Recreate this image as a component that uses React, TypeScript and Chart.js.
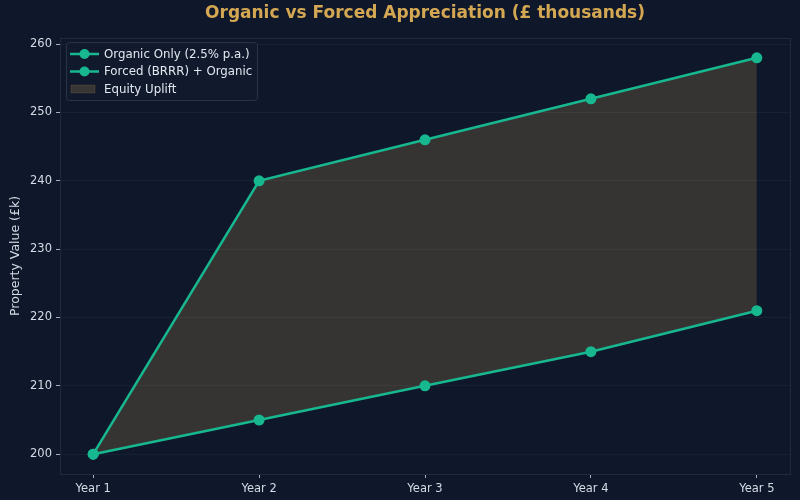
import React, { useEffect, useRef } from "react";
import { Chart, registerables } from "chart.js";

Chart.register(...registerables);

const labels = ["Year 1", "Year 2", "Year 3", "Year 4", "Year 5"];
const organic = [200, 205, 210, 215, 221];
const forced = [200, 240, 246, 252, 258];
const yTicks = [200, 210, 220, 230, 240, 250, 260];

const BG = "#0f172a";
const LINE = "#17b890";
const GOLD = "#d4a853";
const TEXT = "#d5dce6";
const FONT = "'DejaVu Sans', sans-serif";

const legendItems = [
  { type: "line", text: "Organic Only (2.5% p.a.)" },
  { type: "line", text: "Forced (BRRR) + Organic" },
  { type: "patch", text: "Equity Uplift" },
];

const customPlugin = {
  id: "custom",
  beforeDraw(chart: any) {
    const { ctx, width, height } = chart;
    ctx.save();
    ctx.fillStyle = BG;
    ctx.fillRect(0, 0, width, height);
    ctx.restore();
  },
  afterDraw(chart: any) {
    const { ctx, chartArea } = chart;
    ctx.save();
    // spines
    ctx.strokeStyle = "#1f2a3d";
    ctx.lineWidth = 1;
    ctx.strokeRect(
      Math.round(chartArea.left) + 0.5,
      Math.round(chartArea.top) + 0.5,
      Math.round(chartArea.right - chartArea.left),
      Math.round(chartArea.bottom - chartArea.top)
    );
    // title
    ctx.fillStyle = GOLD;
    ctx.font = `bold 17px ${FONT}`;
    ctx.textAlign = "center";
    ctx.textBaseline = "middle";
    ctx.fillText(
      "Organic vs Forced Appreciation (£ thousands)",
      (chartArea.left + chartArea.right) / 2,
      14
    );
    // y title
    ctx.save();
    ctx.translate(16, (chartArea.top + chartArea.bottom) / 2);
    ctx.rotate(-Math.PI / 2);
    ctx.fillStyle = TEXT;
    ctx.font = `12.5px ${FONT}`;
    ctx.fillText("Property Value (£k)", 0, 0);
    ctx.restore();
    // legend
    const bx = chartArea.left + 6;
    const by = chartArea.top + 4;
    const bw = 191;
    const bh = 58;
    ctx.beginPath();
    if (ctx.roundRect) ctx.roundRect(bx + 0.5, by + 0.5, bw, bh, 3);
    else ctx.rect(bx + 0.5, by + 0.5, bw, bh);
    ctx.fillStyle = "rgba(18,26,45,0.85)";
    ctx.fill();
    ctx.strokeStyle = "#2a3448";
    ctx.lineWidth = 1;
    ctx.stroke();
    ctx.font = `11.8px ${FONT}`;
    ctx.textAlign = "left";
    ctx.textBaseline = "middle";
    legendItems.forEach((it, i) => {
      const cy = by + 12 + i * 17.5;
      if (it.type === "line") {
        ctx.strokeStyle = LINE;
        ctx.lineWidth = 2.5;
        ctx.beginPath();
        ctx.moveTo(bx + 4, cy);
        ctx.lineTo(bx + 33, cy);
        ctx.stroke();
        ctx.fillStyle = LINE;
        ctx.beginPath();
        ctx.arc(bx + 18.5, cy, 5, 0, Math.PI * 2);
        ctx.fill();
      } else {
        ctx.fillStyle = "rgba(212,168,83,0.2)";
        ctx.fillRect(bx + 5, cy - 4, 24, 8);
        ctx.strokeStyle = "rgba(212,168,83,0.15)";
        ctx.lineWidth = 1;
        ctx.strokeRect(bx + 5, cy - 4, 24, 8);
      }
      ctx.fillStyle = "#e2e8f0";
      ctx.fillText(it.text, bx + 38, cy + 0.5);
    });
    ctx.restore();
  },
};

export default function App() {
  const ref = useRef<HTMLCanvasElement>(null);
  useEffect(() => {
    document.body.style.margin = "0";
    document.body.style.background = BG;
    const chart = new Chart(ref.current!, {
      type: "line",
      data: {
        datasets: [
          {
            label: "Organic Only (2.5% p.a.)",
            data: organic.map((v, i) => ({ x: i, y: v })),
            borderColor: LINE,
            backgroundColor: LINE,
            borderWidth: 2.5,
            pointRadius: 5.5,
            pointHoverRadius: 5.5,
            pointBorderWidth: 0,
            fill: false,
          },
          {
            label: "Forced (BRRR) + Organic",
            data: forced.map((v, i) => ({ x: i, y: v })),
            borderColor: LINE,
            backgroundColor: LINE,
            borderWidth: 2.5,
            pointRadius: 5.5,
            pointHoverRadius: 5.5,
            pointBorderWidth: 0,
            fill: { target: "-1", above: "rgba(212,168,83,0.2)", below: "rgba(212,168,83,0.2)" },
          },
        ],
      },
      options: {
        animation: false,
        responsive: false,
        maintainAspectRatio: false,
        layout: { padding: { top: 38, right: 10, left: 0, bottom: 0 } },
        plugins: {
          legend: { display: false },
          title: { display: false },
          tooltip: { enabled: false },
        },
        scales: {
          x: {
            type: "linear",
            min: -0.2,
            max: 4.2,
            afterBuildTicks: (s: any) => {
              s.ticks = labels.map((_, i) => ({ value: i }));
            },
            afterFit: (s: any) => {
              s.height = 26;
            },
            ticks: {
              color: TEXT,
              font: { family: FONT, size: 11.5 },
              padding: 4,
              maxRotation: 0,
              autoSkip: false,
              callback: (v: any) => labels[v as number] ?? "",
            },
            grid: {
              drawOnChartArea: false,
              color: "rgba(148,163,184,0.06)",
              tickColor: "#a0aec0",
              tickLength: 4,
              drawTicks: true,
            },
            border: { display: false },
          },
          y: {
            type: "linear",
            min: 197.1,
            max: 260.9,
            afterBuildTicks: (s: any) => {
              s.ticks = yTicks.map((v) => ({ value: v }));
            },
            afterFit: (s: any) => {
              s.width = 60;
            },
            ticks: {
              color: TEXT,
              font: { family: FONT, size: 11.5 },
              padding: 4,
            },
            grid: {
              color: "rgba(148,163,184,0.07)",
              tickColor: "#a0aec0",
              tickLength: 4,
              drawTicks: true,
            },
            border: { display: false },
          },
        },
      },
      plugins: [customPlugin],
    } as any);
    return () => chart.destroy();
  }, []);
  return (
    <div style={{ width: 800, height: 500 }}>
      <canvas ref={ref} width={800} height={500} style={{ display: "block" }} />
    </div>
  );
}
